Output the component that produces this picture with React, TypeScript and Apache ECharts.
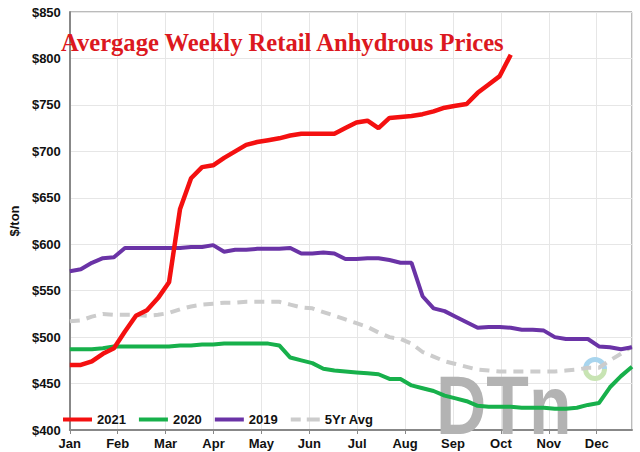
import React, { useEffect, useRef } from "react";
import * as echarts from "echarts";

const monthLabels = ["Jan", "Feb", "Mar", "Apr", "May", "Jun", "Jul", "Aug", "Sep", "Oct", "Nov", "Dec"];
const weeksPerMonth = 52.1429 / 12;
const lastWeek = 51;

// weekly prices ($/ton), week 0 = first week of January
const y2021 = [470, 470, 474, 482, 488, 506, 523, 529, 542, 559, 638, 671, 683, 685, 693, 700, 707, 710, 712, 714, 717, 719, 719, 719, 719, 725, 731, 733, 725, 736, 737, 738, 740, 743, 747, 749, 751, 763, 772, 781, 804];
const y2020 = [487, 487, 487, 488, 490, 490, 490, 490, 490, 490, 491, 491, 492, 492, 493, 493, 493, 493, 493, 491, 478, 475, 472, 466, 464, 463, 462, 461, 460, 455, 455, 448, 445, 442, 437, 434, 431, 426, 425, 425, 425, 424, 424, 424, 423, 423, 424, 427, 429, 446, 458, 468];
const y2019 = [571, 573, 580, 585, 586, 596, 596, 596, 596, 596, 596, 597, 597, 599, 592, 594, 594, 595, 595, 595, 596, 590, 590, 591, 590, 584, 584, 585, 585, 583, 580, 580, 544, 531, 528, 522, 516, 510, 511, 511, 510, 508, 508, 507, 500, 498, 498, 498, 490, 489, 487, 489];
const y5yr = [517, 518, 522, 525, 524, 524, 524, 523, 524, 526, 530, 533, 535, 536, 537, 537, 538, 538, 538, 538, 535, 532, 531, 527, 523, 519, 515, 511, 505, 500, 498, 493, 484, 479, 474, 471, 468, 465, 464, 463, 463, 463, 463, 463, 463, 464, 465, 467, 467, 475, 482, 490];

const toPairs = (arr: number[]) => arr.map((v, i) => [i, v]);

export default function App() {
  const ref = useRef<HTMLDivElement>(null);
  useEffect(() => {
    if (!ref.current) return;
    document.body.style.margin = "0";
    const chart = echarts.init(ref.current, null, { renderer: "svg" });
    const font = "Liberation Sans";
    const mk = (name: string, data: number[], color: string, dashed = false, width = 4) => ({
      name,
      type: "line",
      data: toPairs(data),
      symbol: "none",
      lineStyle: { color, width, type: dashed ? [10, 7] : "solid" },
      itemStyle: { color },
      z: 3,
    });
    const solidIcon = "rect";
    const dashIcon = "path://M0,0H10V4H0Z M16,0H29V4H16Z";
    chart.setOption({
      animation: false,
      backgroundColor: "#ffffff",
      title: {
        text: "Avergage Weekly Retail Anhydrous Prices",
        left: 61,
        top: 30,
        padding: 0,
        textStyle: { color: "#dc1820", fontFamily: "Liberation Serif", fontWeight: "bold", fontSize: 24.6 },
      },
      grid: { left: 59, right: 8, top: 12, bottom: 22, show: true, borderColor: "#777", borderWidth: 1 },
      legend: {
        left: 63,
        top: 413,
        padding: 0,
        itemWidth: 29,
        itemHeight: 4,
        itemGap: 13,
        textStyle: { fontFamily: font, fontWeight: "bold", fontSize: 13, color: "#111" },
        data: [
          { name: "2021", icon: solidIcon },
          { name: "2020", icon: solidIcon },
          { name: "2019", icon: solidIcon },
          { name: "5Yr Avg", icon: dashIcon },
        ],
      },
      xAxis: {
        type: "value",
        min: 0,
        max: lastWeek,
        interval: weeksPerMonth,
        axisLine: { show: true, lineStyle: { color: "#888", width: 2 } },
        axisTick: { show: true, length: 4, lineStyle: { color: "#888" } },
        splitLine: { show: true, lineStyle: { color: "#e6e6e6", width: 1 } },
        axisLabel: {
          margin: 7,
          showMaxLabel: false,
          fontFamily: font,
          fontWeight: "bold",
          fontSize: 13,
          color: "#111",
          formatter: (v: number) => {
            const k = v / weeksPerMonth;
            const idx = Math.round(k);
            return Math.abs(k - idx) < 0.02 && idx < 12 ? monthLabels[idx] : "";
          },
        },
      },
      yAxis: {
        type: "value",
        min: 400,
        max: 850,
        interval: 50,
        name: "$/ton",
        nameLocation: "middle",
        nameGap: 43,
        nameTextStyle: { fontFamily: font, fontWeight: "bold", fontSize: 13, color: "#111" },
        axisLine: { show: true, lineStyle: { color: "#888", width: 2 } },
        axisTick: { show: false },
        splitLine: { show: true, lineStyle: { color: "#e6e6e6", width: 1 } },
        axisLabel: {
          margin: 9,
          fontFamily: font,
          fontWeight: "bold",
          fontSize: 13,
          color: "#111",
          formatter: (v: number) => "$" + v,
        },
      },
      graphic: [
        {
          type: "text",
          x: 436,
          y: 447,
          scaleX: 0.83,
          z: 1,
          style: { text: "DTn", font: 'bold 84px "Liberation Sans"', fill: "#b3b3b3", verticalAlign: "bottom" },
        },
        {
          type: "sector",
          z: 1,
          shape: { cx: 595, cy: 369, r: 12, r0: 7, startAngle: Math.PI, endAngle: 2 * Math.PI },
          style: { fill: "#a8d5ee" },
        },
        {
          type: "sector",
          z: 1,
          shape: { cx: 595, cy: 369, r: 12, r0: 7, startAngle: 0, endAngle: Math.PI },
          style: { fill: "#c8e4b3" },
        },
      ],
      series: [
        mk("5Yr Avg", y5yr, "#cccccc", true, 4),
        mk("2019", y2019, "#6a33a6"),
        mk("2020", y2020, "#17b04b"),
        mk("2021", y2021, "#f41010", false, 4.5),
      ],
    });
    return () => chart.dispose();
  }, []);
  return <div ref={ref} style={{ position: "absolute", left: 0, top: 0, width: 640, height: 452 }} />;
}
